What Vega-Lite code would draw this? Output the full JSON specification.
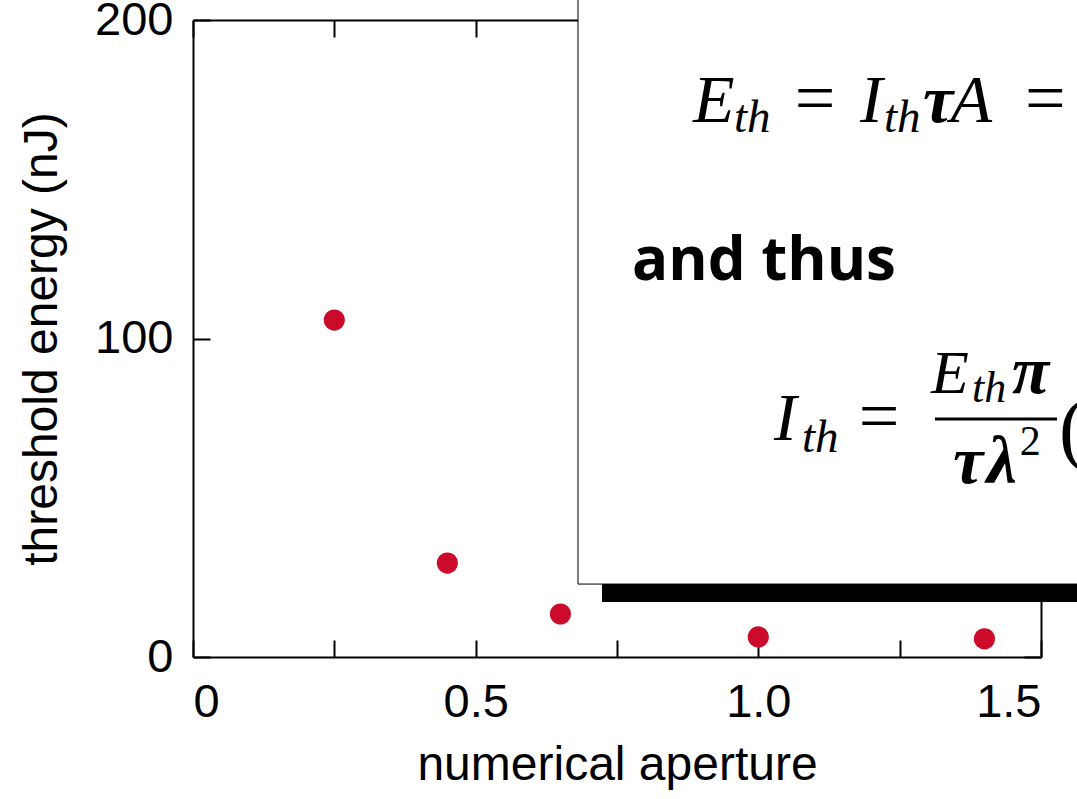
{
  "$schema": "https://vega.github.io/schema/vega-lite/v6.json",
  "width": 848,
  "height": 637,
  "autosize": {"type": "none"},
  "padding": {"left": 193, "top": 20, "right": 36, "bottom": 142},
  "background": "white",
  "config": {
    "view": {"stroke": null},
    "axis": {
      "grid": false,
      "domainColor": "black",
      "domainWidth": 2,
      "tickColor": "black",
      "tickWidth": 2,
      "tickSize": -17,
      "labelFont": "Liberation Sans",
      "labelFontSize": 47,
      "labelColor": "black",
      "titleFont": "Liberation Sans",
      "titleFontSize": 48,
      "titleFontWeight": "normal",
      "titleColor": "black"
    }
  },
  "datasets": {
    "points": [
      {"na": 0.25, "energy": 105.8},
      {"na": 0.45, "energy": 29.5},
      {"na": 0.65, "energy": 13.5},
      {"na": 1.0, "energy": 6.3},
      {"na": 1.4, "energy": 5.7}
    ],
    "boxes": [
      {"part": "shadow", "x": 0.7235, "x2": 1.9, "y": 17.3, "y2": 260},
      {"part": "box", "x": 0.681, "x2": 1.85, "y": 22.9, "y2": 270}
    ],
    "lines": [
      {"x": 1.3125, "x2": 1.5283, "y": 74.7}
    ],
    "notes": [
      {"role": "big", "label": "E", "x": 0.8844, "y": 167.97},
      {"role": "sub", "label": "th", "x": 0.957, "y": 164.8},
      {"role": "eq", "label": "=", "x": 1.0646, "y": 167.97},
      {"role": "big", "label": "I", "x": 1.1798, "y": 167.97},
      {"role": "sub", "label": "th", "x": 1.2223, "y": 164.8},
      {"role": "greek", "label": "τ", "x": 1.2913, "y": 167.97},
      {"role": "big", "label": "A", "x": 1.34, "y": 167.97},
      {"role": "eq", "label": "=", "x": 1.4715, "y": 167.97},
      {"role": "word", "label": "and thus", "x": 0.7765, "y": 118.4},
      {"role": "big", "label": "I", "x": 1.0277, "y": 68.1},
      {"role": "sub", "label": "th", "x": 1.0773, "y": 64.4},
      {"role": "eq", "label": "=", "x": 1.1778, "y": 68.1},
      {"role": "num", "label": "E", "x": 1.3054, "y": 82.9},
      {"role": "numsub", "label": "th", "x": 1.378, "y": 80.1},
      {"role": "greek", "label": "π", "x": 1.4487, "y": 82.9},
      {"role": "greek", "label": "τ", "x": 1.3443, "y": 54.6},
      {"role": "greek", "label": "λ", "x": 1.404, "y": 54.6},
      {"role": "sup", "label": "2", "x": 1.4625, "y": 63.4},
      {"role": "paren", "label": "(", "x": 1.532, "y": 63.4}
    ]
  },
  "layer": [
    {
      "data": {"name": "points"},
      "mark": {"type": "point", "filled": true, "opacity": 1, "color": "#cc0a2a", "size": 450},
      "encoding": {
        "x": {
          "field": "na", "type": "quantitative",
          "scale": {"domain": [0, 1.5], "nice": false, "zero": false},
          "axis": {
            "orient": "bottom",
            "title": "numerical aperture",
            "values": [0, 0.25, 0.5, 0.75, 1, 1.25, 1.5],
            "labelExpr": "datum.value == 0 ? '0' : ((datum.value * 2) % 1 == 0 ? format(datum.value, '.1f') : '')",
            "labelPadding": 39,
            "labelBaseline": "top",
            "titlePadding": 16
          }
        },
        "y": {
          "field": "energy", "type": "quantitative",
          "scale": {"domain": [0, 200], "nice": false, "zero": false},
          "axis": {
            "orient": "left",
            "title": "threshold energy (nJ)",
            "values": [0, 100, 200],
            "labelPadding": 37,
            "titlePadding": 28
          }
        }
      }
    },
    {
      "data": {"name": "points"},
      "mark": {"type": "point", "opacity": 0},
      "encoding": {
        "x": {
          "field": "na", "type": "quantitative",
          "scale": {"domain": [0, 1.5], "nice": false, "zero": false},
          "axis": {"orient": "top", "title": null, "labels": false, "values": [0, 0.25, 0.5, 0.75, 1, 1.25, 1.5]}
        },
        "y": {
          "field": "energy", "type": "quantitative",
          "scale": {"domain": [0, 200], "nice": false, "zero": false},
          "axis": {"orient": "right", "title": null, "labels": false, "values": [0, 100, 200]}
        }
      }
    },
    {
      "data": {"name": "boxes"},
      "transform": [{"filter": "datum.part == 'shadow'"}],
      "mark": {"type": "rect", "color": "black"},
      "encoding": {
        "x": {"field": "x", "type": "quantitative", "scale": {"domain": [0, 1.5], "nice": false, "zero": false}, "axis": null},
        "x2": {"field": "x2"},
        "y": {"field": "y", "type": "quantitative", "scale": {"domain": [0, 200], "nice": false, "zero": false}, "axis": null},
        "y2": {"field": "y2"}
      }
    },
    {
      "data": {"name": "boxes"},
      "transform": [{"filter": "datum.part == 'box'"}],
      "mark": {"type": "rect", "fill": "white", "stroke": "black", "strokeWidth": 1},
      "encoding": {
        "x": {"field": "x", "type": "quantitative", "scale": {"domain": [0, 1.5], "nice": false, "zero": false}, "axis": null},
        "x2": {"field": "x2"},
        "y": {"field": "y", "type": "quantitative", "scale": {"domain": [0, 200], "nice": false, "zero": false}, "axis": null},
        "y2": {"field": "y2"}
      }
    },
    {
      "data": {"name": "lines"},
      "mark": {"type": "rule", "color": "black", "strokeWidth": 3},
      "encoding": {
        "x": {"field": "x", "type": "quantitative", "scale": {"domain": [0, 1.5], "nice": false, "zero": false}, "axis": null},
        "x2": {"field": "x2"},
        "y": {"field": "y", "type": "quantitative", "scale": {"domain": [0, 200], "nice": false, "zero": false}, "axis": null}
      }
    },
    {
      "data": {"name": "notes"},
      "transform": [{"filter": "datum.role == 'big'"}],
      "mark": {"type": "text", "font": "Liberation Serif", "fontStyle": "italic", "fontSize": 68, "align": "left", "baseline": "alphabetic", "color": "black"},
      "encoding": {
        "x": {"field": "x", "type": "quantitative", "scale": {"domain": [0, 1.5], "nice": false, "zero": false}, "axis": null},
        "y": {"field": "y", "type": "quantitative", "scale": {"domain": [0, 200], "nice": false, "zero": false}, "axis": null},
        "text": {"field": "label"}
      }
    },
    {
      "data": {"name": "notes"},
      "transform": [{"filter": "datum.role == 'sub'"}],
      "mark": {"type": "text", "font": "Liberation Serif", "fontStyle": "italic", "fontSize": 47, "align": "left", "baseline": "alphabetic", "color": "black"},
      "encoding": {
        "x": {"field": "x", "type": "quantitative", "scale": {"domain": [0, 1.5], "nice": false, "zero": false}, "axis": null},
        "y": {"field": "y", "type": "quantitative", "scale": {"domain": [0, 200], "nice": false, "zero": false}, "axis": null},
        "text": {"field": "label"}
      }
    },
    {
      "data": {"name": "notes"},
      "transform": [{"filter": "datum.role == 'eq'"}],
      "mark": {"type": "text", "font": "Liberation Serif", "fontSize": 72, "align": "left", "baseline": "alphabetic", "color": "black"},
      "encoding": {
        "x": {"field": "x", "type": "quantitative", "scale": {"domain": [0, 1.5], "nice": false, "zero": false}, "axis": null},
        "y": {"field": "y", "type": "quantitative", "scale": {"domain": [0, 200], "nice": false, "zero": false}, "axis": null},
        "text": {"field": "label"}
      }
    },
    {
      "data": {"name": "notes"},
      "transform": [{"filter": "datum.role == 'word'"}],
      "mark": {"type": "text", "font": "Open Sans", "fontWeight": "bold", "fontSize": 60, "align": "left", "baseline": "alphabetic", "color": "black"},
      "encoding": {
        "x": {"field": "x", "type": "quantitative", "scale": {"domain": [0, 1.5], "nice": false, "zero": false}, "axis": null},
        "y": {"field": "y", "type": "quantitative", "scale": {"domain": [0, 200], "nice": false, "zero": false}, "axis": null},
        "text": {"field": "label"}
      }
    },
    {
      "data": {"name": "notes"},
      "transform": [{"filter": "datum.role == 'num'"}],
      "mark": {"type": "text", "font": "Liberation Serif", "fontStyle": "italic", "fontSize": 62, "align": "left", "baseline": "alphabetic", "color": "black"},
      "encoding": {
        "x": {"field": "x", "type": "quantitative", "scale": {"domain": [0, 1.5], "nice": false, "zero": false}, "axis": null},
        "y": {"field": "y", "type": "quantitative", "scale": {"domain": [0, 200], "nice": false, "zero": false}, "axis": null},
        "text": {"field": "label"}
      }
    },
    {
      "data": {"name": "notes"},
      "transform": [{"filter": "datum.role == 'numsub'"}],
      "mark": {"type": "text", "font": "Liberation Serif", "fontStyle": "italic", "fontSize": 44, "align": "left", "baseline": "alphabetic", "color": "black"},
      "encoding": {
        "x": {"field": "x", "type": "quantitative", "scale": {"domain": [0, 1.5], "nice": false, "zero": false}, "axis": null},
        "y": {"field": "y", "type": "quantitative", "scale": {"domain": [0, 200], "nice": false, "zero": false}, "axis": null},
        "text": {"field": "label"}
      }
    },
    {
      "data": {"name": "notes"},
      "transform": [{"filter": "datum.role == 'greek'"}],
      "mark": {"type": "text", "font": "Liberation Serif", "fontStyle": "italic", "fontWeight": "bold", "fontSize": 68, "align": "left", "baseline": "alphabetic", "color": "black"},
      "encoding": {
        "x": {"field": "x", "type": "quantitative", "scale": {"domain": [0, 1.5], "nice": false, "zero": false}, "axis": null},
        "y": {"field": "y", "type": "quantitative", "scale": {"domain": [0, 200], "nice": false, "zero": false}, "axis": null},
        "text": {"field": "label"}
      }
    },
    {
      "data": {"name": "notes"},
      "transform": [{"filter": "datum.role == 'sup'"}],
      "mark": {"type": "text", "font": "Liberation Serif", "fontSize": 42, "align": "left", "baseline": "alphabetic", "color": "black"},
      "encoding": {
        "x": {"field": "x", "type": "quantitative", "scale": {"domain": [0, 1.5], "nice": false, "zero": false}, "axis": null},
        "y": {"field": "y", "type": "quantitative", "scale": {"domain": [0, 200], "nice": false, "zero": false}, "axis": null},
        "text": {"field": "label"}
      }
    },
    {
      "data": {"name": "notes"},
      "transform": [{"filter": "datum.role == 'paren'"}],
      "mark": {"type": "text", "font": "Liberation Serif", "fontSize": 80, "align": "left", "baseline": "alphabetic", "color": "black"},
      "encoding": {
        "x": {"field": "x", "type": "quantitative", "scale": {"domain": [0, 1.5], "nice": false, "zero": false}, "axis": null},
        "y": {"field": "y", "type": "quantitative", "scale": {"domain": [0, 200], "nice": false, "zero": false}, "axis": null},
        "text": {"field": "label"}
      }
    }
  ],
  "resolve": {"axis": {"x": "independent", "y": "independent"}}
}
